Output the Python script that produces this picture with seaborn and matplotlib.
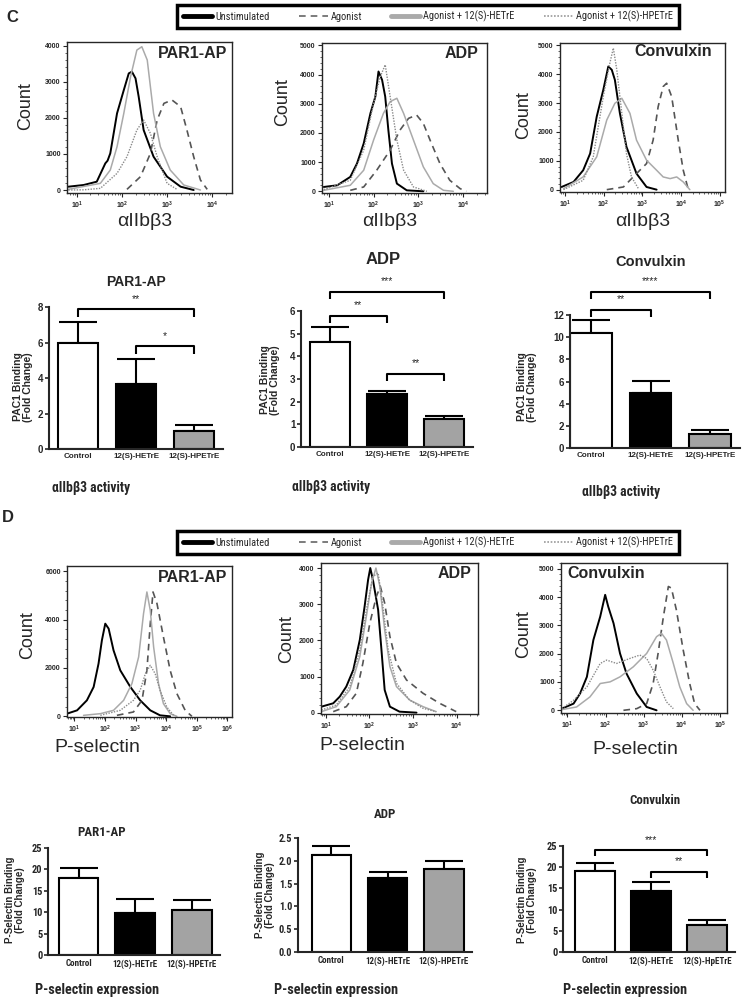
import numpy as np
import pandas as pd
import matplotlib
matplotlib.use('Agg')
import matplotlib.pyplot as plt
from matplotlib import font_manager as fm
from matplotlib.lines import Line2D
from matplotlib.ticker import LogLocator, NullFormatter, MultipleLocator, AutoMinorLocator
import seaborn as sns

W, H = 742, 1007

# ------------------------------------------------------------------ data
CONDITIONS = ['Unstimulated', 'Agonist', 'Agonist + 12(S)-HETrE', 'Agonist + 12(S)-HPETrE']
TREATMENTS = ['Control', '12(S)-HETrE', '12(S)-HPETrE']
TREATMENTS_D3 = ['Control', '12(S)-HETrE', '12(S)-HpETrE']

# flow histograms: (log10 fluorescence, count)
C_PAR1_UNSTIM = [(0.81, 92), (1.15, 139), (1.44, 231), (1.63, 739), (1.68, 813), (1.74, 1016), (1.89, 2125),
                 (2.04, 2771), (2.15, 3233), (2.22, 3280), (2.30, 3095), (2.37, 2587), (2.48, 1663),
                 (2.70, 924), (3.00, 370), (3.30, 92), (3.59, 0)]
C_PAR1_AGON = [(2.11, 18), (2.41, 370), (2.63, 1016), (2.78, 1940), (2.93, 2402), (3.11, 2494), (3.30, 2309),
               (3.44, 1663), (3.59, 924), (3.74, 277), (3.89, 18)]
C_PAR1_HETRE = [(0.81, 18), (1.52, 185), (1.74, 554), (1.89, 1201), (2.04, 2125), (2.19, 3141), (2.33, 3880),
                (2.44, 3972), (2.56, 3603), (2.70, 2125), (2.85, 1201), (3.07, 554), (3.37, 139), (3.74, 0)]
C_PAR1_HPETRE = [(0.81, 0), (1.15, 5), (1.52, 46), (1.89, 462), (2.11, 924), (2.33, 1663), (2.48, 1940),
                 (2.63, 1570), (2.78, 924), (3.00, 185), (3.22, 18)]

C_ADP_UNSTIM = [(0.89, 149), (1.19, 206), (1.48, 493), (1.63, 952), (1.78, 1640), (1.93, 2672), (2.04, 3245),
                (2.11, 4106), (2.19, 3819), (2.26, 3245), (2.33, 2099), (2.41, 952), (2.52, 264), (2.74, 34),
                (3.11, 0)]
C_ADP_AGON = [(1.48, 34), (1.78, 149), (2.07, 722), (2.37, 1411), (2.59, 2099), (2.78, 2500), (2.96, 2615),
              (3.11, 2328), (3.26, 1755), (3.48, 952), (3.70, 378), (3.93, 92), (4.07, 0)]
C_ADP_HETRE = [(0.89, 34), (1.48, 206), (1.78, 722), (2.00, 1755), (2.22, 2672), (2.37, 3073), (2.52, 3188),
               (2.67, 2672), (2.89, 1755), (3.11, 837), (3.33, 264), (3.56, 34), (3.78, 0)]
C_ADP_HPETRE = [(0.89, 57), (1.48, 378), (1.78, 1411), (2.00, 3016), (2.15, 3933), (2.26, 4335), (2.37, 3245),
                (2.52, 1755), (2.67, 722), (2.89, 149), (3.19, 0)]

C_CVX_UNSTIM = [(0.91, 93), (1.22, 267), (1.47, 673), (1.65, 1253), (1.82, 2529), (1.99, 3457), (2.12, 4269),
                (2.21, 4153), (2.29, 3805), (2.42, 2645), (2.59, 1485), (2.85, 557), (3.11, 93), (3.37, 0)]
C_CVX_AGON = [(2.08, 0), (2.51, 93), (2.85, 557), (3.11, 905), (3.28, 1717), (3.41, 2877), (3.54, 3573),
              (3.63, 3689), (3.76, 3225), (3.93, 1717), (4.06, 673), (4.19, 0)]
C_CVX_HETRE = [(0.96, 35), (1.47, 441), (1.82, 1137), (2.08, 2413), (2.29, 2993), (2.47, 3167), (2.68, 2645),
               (2.85, 1717), (3.11, 1021), (3.37, 673), (3.54, 441), (3.72, 383), (3.89, 441), (4.06, 267),
               (4.23, 0)]
C_CVX_HPETRE = [(0.96, 0), (1.47, 325), (1.73, 1137), (1.99, 3225), (2.16, 4385), (2.25, 4907), (2.34, 4153),
                (2.47, 2645), (2.59, 1253), (2.72, 441), (2.90, 35)]

D_PAR1_UNSTIM = [(0.76, 110), (1.09, 248), (1.41, 662), (1.63, 1214), (1.79, 2179), (1.90, 3145), (2.01, 3834),
                 (2.12, 3628), (2.28, 2731), (2.50, 1903), (2.83, 1214), (3.15, 662), (3.48, 248), (3.80, 41),
                 (4.13, 0)]
D_PAR1_AGON = [(2.39, 41), (2.93, 179), (3.21, 662), (3.37, 1903), (3.48, 3834), (3.57, 5145), (3.70, 4662),
               (3.91, 3283), (4.13, 1903), (4.35, 938), (4.62, 248), (4.84, 0)]
D_PAR1_HETRE = [(1.30, 41), (1.85, 110), (2.28, 248), (2.61, 662), (2.88, 1352), (3.10, 2455), (3.26, 4248),
                (3.37, 5145), (3.48, 4386), (3.59, 2869), (3.75, 1352), (3.91, 524), (4.13, 110), (4.35, 0)]
D_PAR1_HPETRE = [(1.85, 41), (2.50, 248), (2.93, 662), (3.15, 1076), (3.32, 1766), (3.48, 2110), (3.64, 1766),
                 (3.80, 1076), (4.02, 386), (4.24, 41)]

D_ADP_UNSTIM = [(0.90, 166), (1.17, 259), (1.32, 443), (1.47, 721), (1.63, 1182), (1.78, 2014), (1.89, 2938),
                (1.97, 3677), (2.02, 4000), (2.08, 3677), (2.20, 2845), (2.27, 1829), (2.35, 628), (2.47, 166),
                (2.69, 28), (3.08, 0)]
D_ADP_AGON = [(1.17, 28), (1.47, 166), (1.70, 536), (1.85, 1367), (2.01, 2476), (2.16, 3215), (2.25, 3492),
              (2.35, 3030), (2.47, 2106), (2.62, 1367), (2.85, 905), (3.23, 536), (3.61, 259), (3.99, 28)]
D_ADP_HETRE = [(0.90, 28), (1.24, 166), (1.55, 628), (1.78, 1552), (1.93, 2661), (2.05, 3584), (2.15, 4000),
               (2.24, 3492), (2.35, 2291), (2.47, 1275), (2.62, 721), (2.92, 351), (3.23, 166), (3.53, 28)]
D_ADP_HPETRE = [(0.90, 74), (1.24, 212), (1.55, 721), (1.78, 1737), (1.93, 2845), (2.08, 3769), (2.20, 3861),
                (2.31, 2938), (2.43, 1737), (2.62, 813), (2.92, 351), (3.23, 120), (3.53, 28)]

D_CVX_UNSTIM = [(0.85, 59), (1.16, 236), (1.33, 591), (1.51, 1182), (1.68, 2482), (1.86, 3310), (1.99, 4078),
                (2.07, 3664), (2.21, 3073), (2.38, 2009), (2.55, 1300), (2.82, 591), (3.08, 118), (3.34, 0)]
D_CVX_AGON = [(2.47, 0), (2.82, 59), (3.08, 236), (3.25, 946), (3.38, 2009), (3.52, 3310), (3.65, 4373),
              (3.73, 4315), (3.86, 3546), (4.04, 2128), (4.21, 946), (4.34, 236), (4.48, 0)]
D_CVX_HETRE = [(0.85, 24), (1.24, 118), (1.59, 473), (1.86, 946), (2.12, 1005), (2.38, 1182), (2.73, 1537),
               (3.08, 2009), (3.34, 2600), (3.47, 2719), (3.60, 2482), (3.78, 1655), (3.95, 827), (4.13, 236),
               (4.30, 0)]
D_CVX_HPETRE = [(0.85, 59), (1.16, 355), (1.51, 827), (1.86, 1655), (2.03, 1773), (2.29, 1655), (2.64, 1832),
                (2.90, 1950), (3.08, 1832), (3.25, 1418), (3.43, 827), (3.60, 296), (3.78, 59)]

# bar charts: mean fold change and SEM
C_PAR1_MEAN = [5.95, 3.66, 1.03]
C_PAR1_SEM = [1.21, 1.41, 0.30]
C_ADP_MEAN = [4.65, 2.33, 1.25]
C_ADP_SEM = [0.63, 0.16, 0.10]
C_CVX_MEAN = [10.35, 4.95, 1.29]
C_CVX_SEM = [1.20, 1.11, 0.30]
D_PAR1_MEAN = [17.9, 9.7, 10.6]
D_PAR1_SEM = [2.5, 3.5, 2.3]
D_ADP_MEAN = [2.12, 1.63, 1.82]
D_ADP_SEM = [0.20, 0.12, 0.18]
D_CVX_MEAN = [19.2, 14.5, 6.3]
D_CVX_SEM = [1.8, 2.0, 1.2]

# significance brackets: (from, to, label, bracket height)
C_PAR1_SIG = [(0, 2, '**', 7.87), (1, 2, '*', 5.79)]
C_ADP_SIG = [(0, 2, '***', 6.85), (0, 1, '**', 5.78), (1, 2, '**', 3.23)]
C_CVX_SIG = [(0, 2, '****', 14.1), (0, 1, '**', 12.45)]
D_CVX_SIG = [(0, 2, '***', 24.0), (1, 2, '**', 18.9)]

# ------------------------------------------------------------------ style
sns.set_style('ticks')
plt.rcParams['font.family'] = ['Liberation Sans', 'DejaVu Sans']
plt.rcParams['axes.linewidth'] = 1.0

# pick a condensed face if one is installed, otherwise shrink Liberation Sans a little
_entries = fm.fontManager.ttflist
_names = {f.name for f in _entries}
NARROW_FAMILY, NARROW_STRETCH, NARROW_SCALE = 'Liberation Sans', 'normal', 0.88
for _cand in ['Liberation Sans Narrow', 'Arial Narrow', 'Roboto Condensed', 'Open Sans Condensed',
              'DejaVu Sans Condensed', 'Noto Sans Condensed']:
    if _cand in _names:
        NARROW_FAMILY, NARROW_SCALE = _cand, 1.0
        break
else:
    for _f in _entries:
        if str(_f.stretch) in ('condensed', 'semi-condensed') and _f.name in (
                'Liberation Sans', 'Roboto', 'Open Sans', 'Noto Sans', 'DejaVu Sans'):
            NARROW_FAMILY, NARROW_STRETCH, NARROW_SCALE = _f.name, str(_f.stretch), 1.0
            break


def narrow(size, weight='bold'):
    return fm.FontProperties(family=[NARROW_FAMILY, 'DejaVu Sans'], stretch=NARROW_STRETCH,
                             size=size * NARROW_SCALE, weight=weight)


LINE_STYLES = {
    'Unstimulated': dict(color='black', lw=1.4, ls='-'),
    'Agonist': dict(color='#555555', lw=1.2, ls=(0, (4, 3))),
    'Agonist + 12(S)-HETrE': dict(color='#aaaaaa', lw=1.1, ls='-'),
    'Agonist + 12(S)-HPETrE': dict(color='#8a8a8a', lw=1.0, ls=(0, (1, 1))),
}
BAR_COLORS = ['white', 'black', '#a3a3a3']

fig = plt.figure(figsize=(W / 100, H / 100), dpi=100)
fig.patch.set_facecolor('white')


def px_axes(x0, y0, x1, y1):
    return fig.add_axes([x0 / W, 1 - y1 / H, (x1 - x0) / W, (y1 - y0) / H])


def ftext(x, y, s, **kw):
    return fig.text(x / W, 1 - y / H, s, **kw)


def hist_panel(box, curves, xlim, ylim, ystep, title, tpos, tha):
    ax = px_axes(*box)
    for name, pts in zip(CONDITIONS, curves):
        df = pd.DataFrame(pts, columns=['lx', 'count'])
        df['x'] = 10 ** df['lx']
        st = LINE_STYLES[name]
        sns.lineplot(data=df, x='x', y='count', ax=ax, sort=False, estimator=None,
                     color=st['color'], linewidth=st['lw'], linestyle=st['ls'])
    ax.set_xscale('log')
    ax.set_xlim(10 ** xlim[0], 10 ** xlim[1])
    ax.set_ylim(*ylim)
    ax.xaxis.set_major_locator(LogLocator(base=10, numticks=10))
    ax.xaxis.set_minor_locator(LogLocator(base=10, subs=np.arange(2, 10), numticks=20))
    ax.xaxis.set_minor_formatter(NullFormatter())
    ax.yaxis.set_major_locator(MultipleLocator(ystep))
    ax.yaxis.set_minor_locator(AutoMinorLocator(5))
    ax.set_xlabel('')
    ax.set_ylabel('')
    ax.tick_params(which='major', length=3, width=0.8, labelsize=5, pad=1.5, direction='out')
    ax.tick_params(which='minor', length=1.5, width=0.5, direction='out')
    for lab in ax.get_yticklabels() + ax.get_xticklabels():
        lab.set_fontweight('bold')
    for sp in ax.spines.values():
        sp.set_linewidth(1.0)
    ax.text(tpos[0], tpos[1], title, transform=ax.transAxes, ha=tha, va='center',
            fontsize=11.5, fontweight='bold')
    return ax


def bar_panel(box, xlim, means, sems, ylim, ystep, labels, sigs, fmt, is_narrow=False):
    ax = px_axes(*box)
    df = pd.DataFrame({'group': labels, 'value': means})
    sns.barplot(data=df, x='group', y='value', hue='group', palette=BAR_COLORS, legend=False,
                edgecolor='black', linewidth=1.5, width=0.7, ax=ax, errorbar=None, zorder=2)
    xs = np.arange(len(means))
    ax.errorbar(xs, means, yerr=[np.zeros(len(sems)), sems], fmt='none', ecolor='black',
                elinewidth=1.5, capsize=14, capthick=1.5, zorder=1)
    ax.set_xlim(*xlim)
    ax.set_ylim(*ylim)
    ax.yaxis.set_major_locator(MultipleLocator(ystep))
    ax.yaxis.set_major_formatter(plt.FormatStrFormatter(fmt))
    sns.despine(ax=ax)
    for sp in ('left', 'bottom'):
        ax.spines[sp].set_linewidth(1.5)
    ax.tick_params(axis='y', length=3, width=1.2, pad=1)
    ax.tick_params(axis='x', length=0, pad=3)
    ax.set_xlabel('')
    ax.set_ylabel('')
    for lab in ax.get_yticklabels():
        lab.set_fontproperties(narrow(7.5) if is_narrow else
                               fm.FontProperties(family='Liberation Sans', size=7, weight='bold'))
    for lab in ax.get_xticklabels():
        lab.set_fontproperties(narrow(6.5) if is_narrow else
                               fm.FontProperties(family='Liberation Sans', size=5.8, weight='bold'))
    span = ylim[1] - ylim[0]
    for i, j, s, h in sigs:
        drop = span * 0.055
        ax.plot([i, i, j, j], [h - drop, h, h, h - drop], color='black', lw=1.5,
                clip_on=False, solid_capstyle='butt')
        ax.annotate(s, xy=((i + j) / 2, h), xytext=(0, 4), textcoords='offset points',
                    ha='center', va='bottom', fontsize=7.5, annotation_clip=False)
    return ax


# ------------------------------------------------------------------ panel C
ftext(12, 18, 'C', fontsize=12, fontweight='bold', ha='center', va='center')
hist_panel((67, 42, 232, 193), [C_PAR1_UNSTIM, C_PAR1_AGON, C_PAR1_HETRE, C_PAR1_HPETRE],
           (0.78, 4.44), (-83, 4103), 1000, 'PAR1-AP', (0.97, 0.925), 'right')
hist_panel((322, 43, 487, 193), [C_ADP_UNSTIM, C_ADP_AGON, C_ADP_HETRE, C_ADP_HPETRE],
           (0.85, 4.53), (-58, 5083), 1000, 'ADP', (0.95, 0.93), 'right')
hist_panel((560, 43, 725, 192), [C_CVX_UNSTIM, C_CVX_AGON, C_CVX_HETRE, C_CVX_HPETRE],
           (0.87, 5.14), (-81, 5083), 1000, 'Convulxin', (0.92, 0.945), 'right')
for x, y in [(26, 106), (283, 102), (524, 115)]:
    ftext(x, y, 'Count', fontsize=13, rotation=90, ha='center', va='center')
for x in (145, 390, 643):
    ftext(x, 221, 'αIIbβ3', fontsize=14, ha='center', va='center')

bar_panel((49, 307, 223, 449), (-0.5, 2.5), C_PAR1_MEAN, C_PAR1_SEM, (0, 8), 2,
          TREATMENTS, C_PAR1_SIG, '%d')
bar_panel((301, 311, 473, 447), (-0.5, 2.5), C_ADP_MEAN, C_ADP_SEM, (0, 6), 1,
          TREATMENTS, C_ADP_SIG, '%d')
bar_panel((570, 315, 740, 448), (-0.35, 2.5), C_CVX_MEAN, C_CVX_SEM, (0, 12), 2,
          TREATMENTS, C_CVX_SIG, '%d')
for x, y, s, fs in [(136, 282, 'PAR1-AP', 10), (383, 260, 'ADP', 12), (651, 262, 'Convulxin', 10.5)]:
    ftext(x, y, s, fontsize=fs, fontweight='bold', ha='center', va='center')
for x, y in [(23, 387), (270, 380), (527, 387)]:
    ftext(x, y, 'PAC1 Binding\n(Fold Change)', fontsize=7.5, fontweight='bold', rotation=90,
          ha='center', va='center', linespacing=1.1)
for x, y in [(91, 488), (331, 487), (621, 492)]:
    ftext(x, y, 'αIIbβ3 activity', ha='center', va='center', fontproperties=narrow(9.8))

# ------------------------------------------------------------------ panel D
ftext(8, 518, 'D', fontsize=12, fontweight='bold', ha='center', va='center')
hist_panel((67, 566, 232, 717), [D_PAR1_UNSTIM, D_PAR1_AGON, D_PAR1_HETRE, D_PAR1_HPETRE],
           (0.76, 6.15), (-28, 6219), 2000, 'PAR1-AP', (0.97, 0.925), 'right')
hist_panel((321, 563, 478, 714), [D_ADP_UNSTIM, D_ADP_AGON, D_ADP_HETRE, D_ADP_HPETRE],
           (0.89, 4.49), (-37, 4139), 1000, 'ADP', (0.96, 0.93), 'right')
hist_panel((561, 563, 727, 713), [D_CVX_UNSTIM, D_CVX_AGON, D_CVX_HETRE, D_CVX_HPETRE],
           (0.83, 5.19), (-95, 5202), 1000, 'Convulxin', (0.04, 0.93), 'left')
for x, y in [(28, 635), (287, 639), (524, 634)]:
    ftext(x, y, 'Count', fontsize=13, rotation=90, ha='center', va='center')
for x, y in [(97, 747), (362, 746), (635, 749)]:
    ftext(x, y, 'P-selectin', fontsize=14, ha='center', va='center')

bar_panel((48, 848, 220, 955), (-0.54, 2.5), D_PAR1_MEAN, D_PAR1_SEM, (0, 25), 5,
          TREATMENTS, [], '%d', is_narrow=True)
bar_panel((298, 838, 472, 952), (-0.59, 2.5), D_ADP_MEAN, D_ADP_SEM, (0, 2.5), 0.5,
          TREATMENTS, [], '%.1f', is_narrow=True)
bar_panel((563, 846, 735, 952), (-0.57, 2.5), D_CVX_MEAN, D_CVX_SEM, (0, 25), 5,
          TREATMENTS_D3, D_CVX_SIG, '%d', is_narrow=True)
for x, y, s in [(102, 832, 'PAR1-AP'), (385, 815, 'ADP'), (655, 800, 'Convulxin')]:
    ftext(x, y, s, ha='center', va='center', fontproperties=narrow(9.3))
for x, y in [(15, 900), (265, 895), (527, 900)]:
    ftext(x, y, 'P-Selectin Binding\n(Fold Change)', fontsize=7, fontweight='bold', rotation=90,
          ha='center', va='center', linespacing=1.1)
for x in (97, 336, 625):
    ftext(x, 990, 'P-selectin expression', ha='center', va='center', fontproperties=narrow(10.3))

# ------------------------------------------------------------------ legends
handles = [
    Line2D([], [], color='black', lw=3.5),
    Line2D([], [], color='#666666', lw=1.2, ls=(0, (4, 3))),
    Line2D([], [], color='#aaaaaa', lw=3.5),
    Line2D([], [], color='#999999', lw=1.2, ls=(0, (1, 1))),
]
for y0, y1 in [(3, 30), (529, 556)]:
    leg = fig.legend(handles, CONDITIONS, loc='center', mode='expand', ncol=4,
                     bbox_to_anchor=(172 / W, 1 - y1 / H, 512 / W, (y1 - y0) / H),
                     frameon=True, fancybox=False, edgecolor='black', framealpha=1,
                     handlelength=2.8, handletextpad=0.3, columnspacing=0.6, borderpad=0.55,
                     prop=narrow(7.5, weight='normal'))
    leg.get_frame().set_linewidth(2.5)

fig.savefig('out.png', dpi=100, facecolor='white')
